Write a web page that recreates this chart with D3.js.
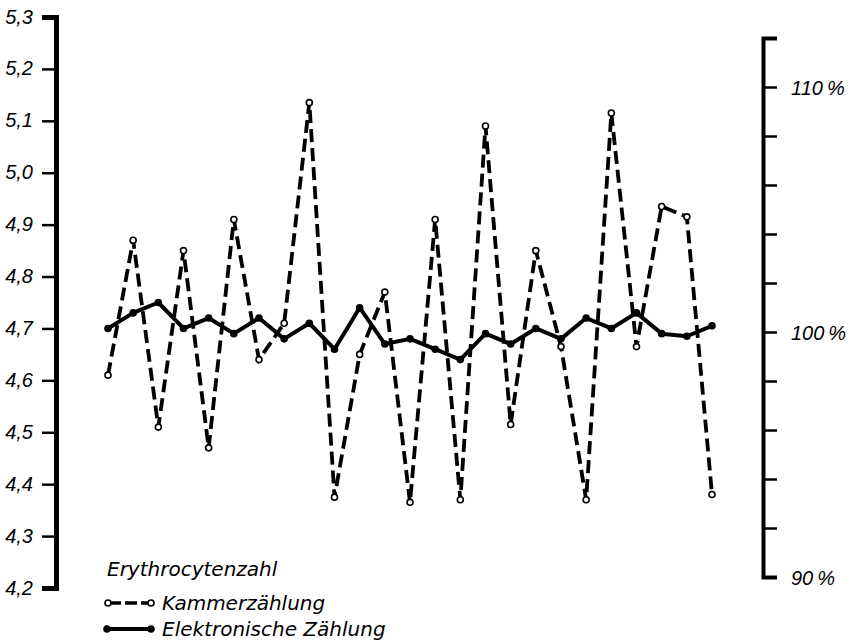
<!DOCTYPE html>
<html>
<head>
<meta charset="utf-8">
<script src="https://cdn.jsdelivr.net/npm/d3@7"></script>
<style>
body { margin: 0; background: #fff; }
svg text { font-family: "Liberation Sans", Arial, sans-serif; font-style: italic; fill: #000; }
svg text.leg { font-family: "DejaVu Sans", sans-serif; }
.axis path, .axis line { stroke: #000; }
</style>
</head>
<body>
<svg id="chart"></svg>
<script>
// Erythrocytenzahl (Mill./mm3), 25 Messungen
var kammer = [4.61, 4.87, 4.51, 4.85, 4.47, 4.91, 4.64, 4.71, 5.135, 4.375,
              4.65, 4.77, 4.365, 4.91, 4.37, 5.09, 4.515, 4.85, 4.665, 4.37,
              5.115, 4.665, 4.935, 4.915, 4.38];
var elektronisch = [4.70, 4.73, 4.75, 4.70, 4.72, 4.69, 4.72, 4.68, 4.71, 4.66,
                    4.74, 4.67, 4.68, 4.66, 4.64, 4.69, 4.67, 4.70, 4.68, 4.72,
                    4.70, 4.73, 4.69, 4.685, 4.705];
var leftTicks = [4.2, 4.3, 4.4, 4.5, 4.6, 4.7, 4.8, 4.9, 5.0, 5.1, 5.2, 5.3];
var rightTicks = [90, 92, 94, 96, 98, 100, 102, 104, 106, 108, 110, 112];
var rightLabels = [90, 100, 110];
var legendTitle = "Erythrocytenzahl";
var legendNames = ["Kammerzählung", "Elektronische Zählung"];

var screen = {width: 854, height: 642};

var svg = d3.select("#chart")
    .attr("width", screen.width)
    .attr("height", screen.height);

var xScale = d3.scaleLinear().domain([0, kammer.length - 1]).range([108, 712]);
var yScale = d3.scaleLinear().domain([4.2, 5.3]).range([588, 17]);
var pScale = d3.scaleLinear().domain([90, 112]).range([577, 38]);

// left axis
var yAxis = d3.axisLeft(yScale)
    .tickValues(leftTicks)
    .tickSize(14)
    .tickSizeOuter(14)
    .tickPadding(9)
    .tickFormat(function(d){ return d3.format(".1f")(d).replace(".", ","); });

var gl = svg.append("g")
    .attr("class", "axis")
    .attr("transform", "translate(56,0)")
    .call(yAxis);
gl.select(".domain").attr("stroke-width", 5).attr("fill", "none");
gl.selectAll(".tick line").attr("stroke-width", 2.5);
gl.selectAll(".tick text").attr("font-size", 20).attr("dy", "0.3em");

// right axis (percent)
var pAxis = d3.axisRight(pScale)
    .tickValues(rightTicks)
    .tickSize(14)
    .tickSizeOuter(14)
    .tickPadding(14)
    .tickFormat(function(d){ return rightLabels.indexOf(d) >= 0 ? d + "\u2009%" : ""; });

var gr = svg.append("g")
    .attr("class", "axis")
    .attr("transform", "translate(763,0)")
    .call(pAxis);
gr.select(".domain").attr("stroke-width", 4).attr("fill", "none");
gr.selectAll(".tick line").attr("stroke-width", 2.5);
gr.selectAll(".tick text").attr("font-size", 20).attr("dy", "0.35em");

var line = d3.line()
    .x(function(d, i){ return xScale(i); })
    .y(function(d){ return yScale(d); });

// Kammerzaehlung, dashed
svg.append("path")
    .datum(kammer)
    .attr("d", line)
    .attr("fill", "none")
    .attr("stroke", "#000")
    .attr("stroke-width", 3.8)
    .attr("stroke-dasharray", "13,6");

// elektronische Zaehlung, solid
svg.append("path")
    .datum(elektronisch)
    .attr("d", line)
    .attr("fill", "none")
    .attr("stroke", "#000")
    .attr("stroke-width", 4)
    .attr("stroke-linejoin", "round");

svg.append("g").selectAll("circle")
    .data(elektronisch)
    .enter()
    .append("circle")
    .attr("cx", function(d, i){ return xScale(i); })
    .attr("cy", function(d){ return yScale(d); })
    .attr("r", 3.8)
    .attr("fill", "#000");

svg.append("g").selectAll("circle")
    .data(kammer)
    .enter()
    .append("circle")
    .attr("cx", function(d, i){ return xScale(i); })
    .attr("cy", function(d){ return yScale(d); })
    .attr("r", 3)
    .attr("fill", "#fff")
    .attr("stroke", "#000")
    .attr("stroke-width", 1.6);

// legend
var legend = svg.append("g").attr("transform", "translate(105,0)");
legend.append("text")
    .attr("class", "leg")
    .attr("x", 2).attr("y", 576)
    .attr("font-size", 20)
    .text(legendTitle);

var rows = [603, 629];
legend.append("line")
    .attr("x1", 4).attr("x2", 45).attr("y1", rows[0]).attr("y2", rows[0])
    .attr("stroke", "#000").attr("stroke-width", 3.5).attr("stroke-dasharray", "12,4");
legend.append("circle").attr("cx", 3).attr("cy", rows[0]).attr("r", 3)
    .attr("fill", "#fff").attr("stroke", "#000").attr("stroke-width", 1.6);
legend.append("circle").attr("cx", 46).attr("cy", rows[0]).attr("r", 3)
    .attr("fill", "#fff").attr("stroke", "#000").attr("stroke-width", 1.6);
legend.append("line")
    .attr("x1", 1).attr("x2", 46).attr("y1", rows[1]).attr("y2", rows[1])
    .attr("stroke", "#000").attr("stroke-width", 4);
legend.append("circle").attr("cx", 2).attr("cy", rows[1]).attr("r", 3.8).attr("fill", "#000");
legend.append("circle").attr("cx", 46).attr("cy", rows[1]).attr("r", 3.8).attr("fill", "#000");

legend.selectAll(".lname")
    .data(legendNames)
    .enter()
    .append("text")
    .attr("class", "leg lname")
    .attr("x", 57)
    .attr("y", function(d, i){ return rows[i] + 7; })
    .attr("font-size", 20)
    .text(function(d){ return d; });
</script>
</body>
</html>
